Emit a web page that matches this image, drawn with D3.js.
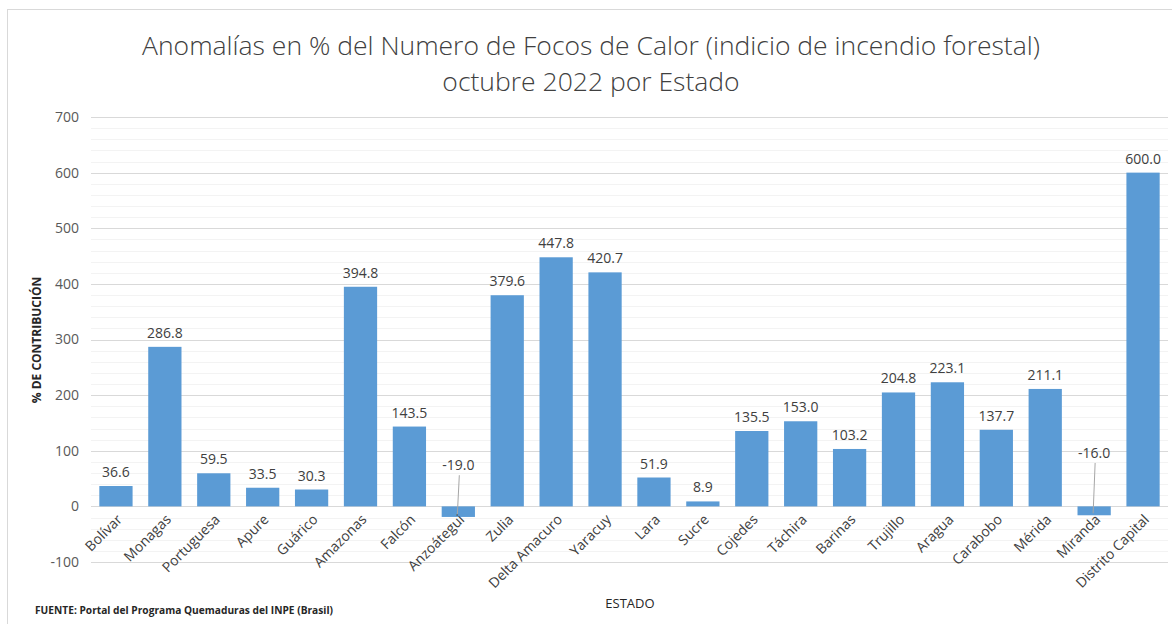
<!DOCTYPE html>
<html><head><meta charset="utf-8">
<script src="https://cdn.jsdelivr.net/npm/d3@7"></script>
<style>body{margin:0;background:#fff}svg{display:block}</style>
</head><body>
<svg id="c" width="1172" height="624"></svg>
<script>
const categories = ["Bolívar","Monagas","Portuguesa","Apure","Guárico","Amazonas","Falcón","Anzoátegui","Zulia","Delta Amacuro","Yaracuy","Lara","Sucre","Cojedes","Táchira","Barinas","Trujillo","Aragua","Carabobo","Mérida","Miranda","Distrito Capital"];
const values = [36.6,286.8,59.5,33.5,30.3,394.8,143.5,-19.0,379.6,447.8,420.7,51.9,8.9,135.5,153.0,103.2,204.8,223.1,137.7,211.1,-16.0,600.0];
const yTicks = [-100,0,100,200,300,400,500,600,700];
const minorTicks = d3.range(-100, 701, 20);
const titleLines = ["Anomalías en % del Numero de Focos de Calor (indicio de incendio forestal)","octubre 2022 por Estado"];
const yTitle = "% DE CONTRIBUCIÓN";
const xTitle = "ESTADO";
const source = "FUENTE:  Portal del Programa Quemaduras del INPE (Brasil)";
// label positions (in data units) for negative bars, placed above with leader line
const negLabelValue = {"Anzoátegui": 65, "Miranda": 87};

const svg = d3.select("#c");
const font = "'Open Sans', 'Liberation Sans', sans-serif";
svg.append("rect").attr("x",7.5).attr("y",9.5).attr("width",1180).attr("height",640)
  .attr("fill","#fff").attr("stroke","#d9d9d9").attr("stroke-width",1);

const x = d3.scaleBand().domain(categories).range([91.5,1167.5]).paddingInner(0.32).paddingOuter(0.16);
const y = d3.scaleLinear().domain([-100,700]).range([562,117]);

// minor grid
svg.append("g").selectAll("line").data(minorTicks.filter(t=>t%100!==0)).join("line")
  .attr("x1",91).attr("x2",1168).attr("y1",d=>Math.round(y(d))+0.5).attr("y2",d=>Math.round(y(d))+0.5)
  .attr("stroke","#f3f3f3").attr("stroke-width",1);
// major grid
svg.append("g").selectAll("line").data(yTicks).join("line")
  .attr("x1",91).attr("x2",1168).attr("y1",d=>Math.round(y(d))+0.5).attr("y2",d=>Math.round(y(d))+0.5)
  .attr("stroke","#d9d9d9").attr("stroke-width",1);

// y axis labels
const yAxis = d3.axisLeft(y).tickValues(yTicks).tickSize(0).tickPadding(0).tickFormat(d=>String(d));
const gy = svg.append("g").attr("transform","translate(79,0)").call(yAxis);
gy.select(".domain").remove();
gy.selectAll("text").attr("font-family",font).attr("font-size",14).attr("fill","#595959");

// bars
svg.append("g").selectAll("rect").data(values).join("rect")
  .attr("x",(d,i)=>x(categories[i])).attr("width",x.bandwidth())
  .attr("y",d=>y(Math.max(0,d))).attr("height",d=>Math.abs(y(d)-y(0)))
  .attr("fill","#5b9bd5");

// value labels
const lab = svg.append("g").attr("font-family",font).attr("font-size",14).attr("fill","#404040").attr("text-anchor","middle");
values.forEach((v,i)=>{
  const cx = x(categories[i]) + x.bandwidth()/2;
  if (v >= 0) {
    lab.append("text").attr("x",cx).attr("y",y(v)-9).text(v.toFixed(1));
  } else {
    const ly = y(negLabelValue[categories[i]]);
    lab.append("text").attr("x",cx).attr("y",ly).text(v.toFixed(1));
    svg.append("line").attr("x1",cx+1).attr("x2",cx-1).attr("y1",ly+5).attr("y2",y(v)-2)
      .attr("stroke","#a6a6a6").attr("stroke-width",1);
  }
});

// x axis labels
const xl = svg.append("g").attr("font-family",font).attr("font-size",14).attr("fill","#404040");
categories.forEach(c=>{
  const cx = x(c) + x.bandwidth()/2 + 7;
  xl.append("text").attr("transform",`translate(${cx},${y(0)+14}) rotate(-45)`)
    .attr("text-anchor","end").text(c);
});

// titles
const t = svg.append("g").attr("font-family",font).attr("font-size",26.5).attr("fill","#404040").attr("text-anchor","middle").attr("font-weight",300);
t.append("text").attr("x",591).attr("y",55).text(titleLines[0]);
t.append("text").attr("x",591).attr("y",91).text(titleLines[1]);

svg.append("text").attr("transform","translate(41,340) rotate(-90)").attr("text-anchor","middle")
  .attr("font-family",font).attr("font-size",12).attr("font-weight","bold").attr("fill","#262626").text(yTitle);
svg.append("text").attr("x",630).attr("y",608).attr("text-anchor","middle")
  .attr("font-family",font).attr("font-size",13).attr("fill","#262626").text(xTitle);
svg.append("text").attr("x",35).attr("y",614)
  .attr("font-family",font).attr("font-size",11).attr("font-weight","bold").attr("fill","#262626")
  .attr("textLength",298).attr("lengthAdjust","spacingAndGlyphs").text(source);
</script>
</body></html>
